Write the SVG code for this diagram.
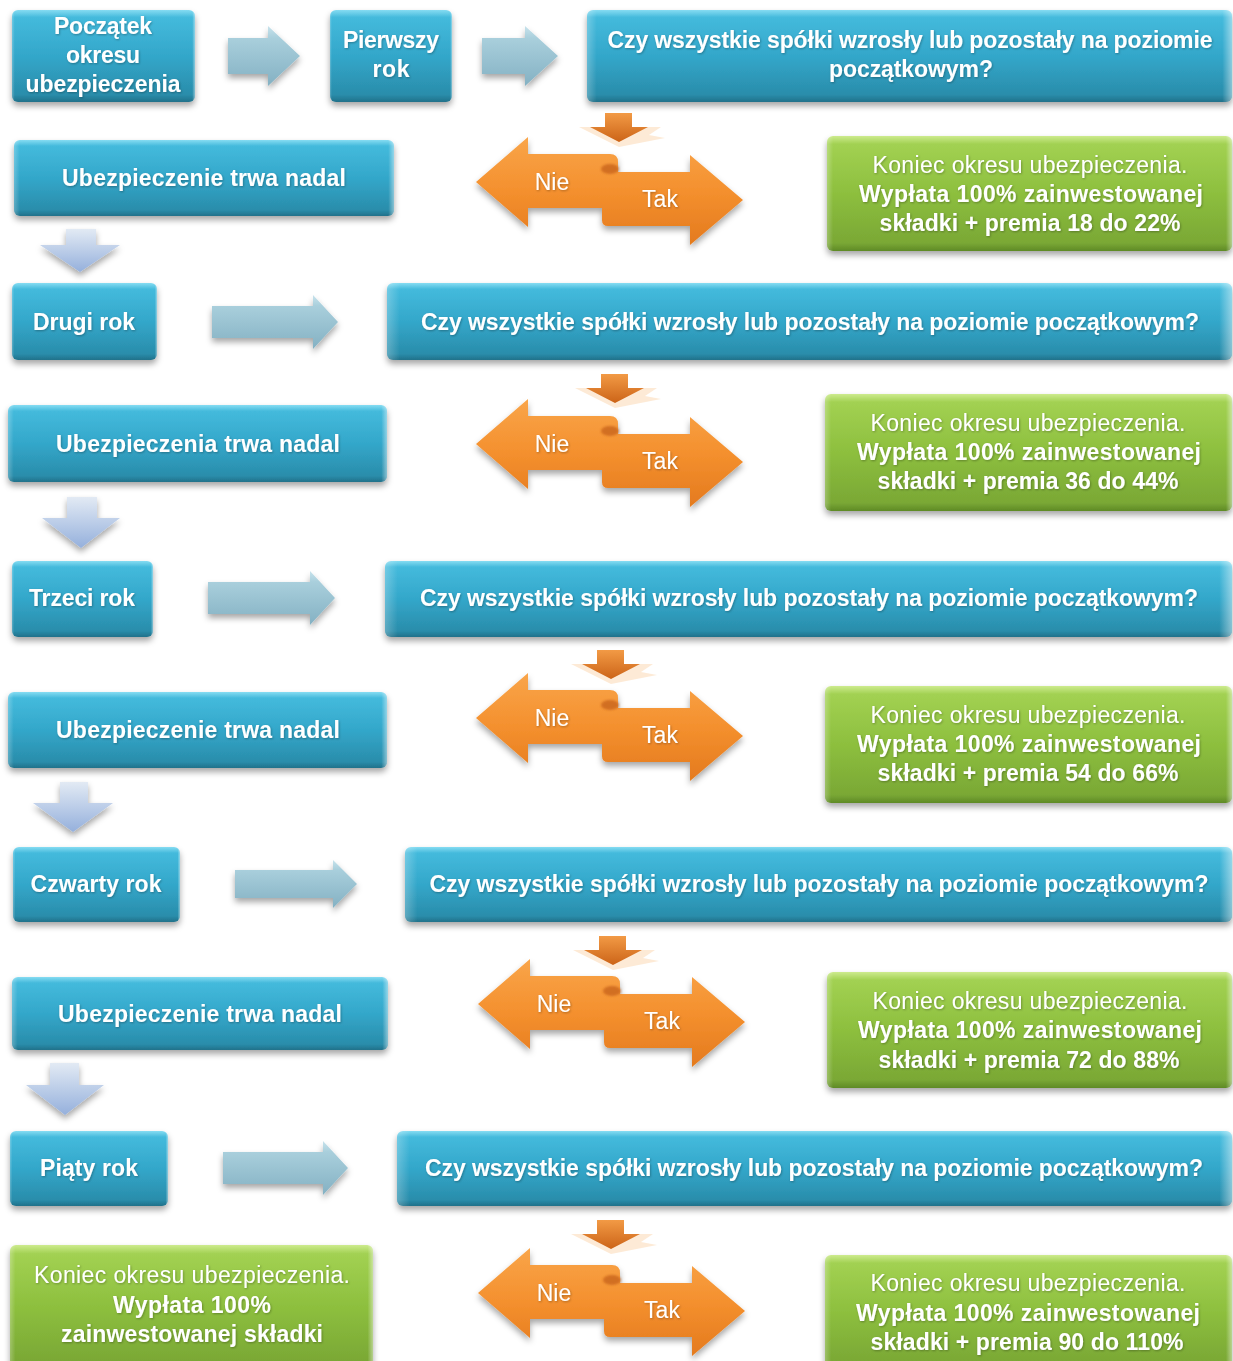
<svg xmlns="http://www.w3.org/2000/svg" xmlns:xlink="http://www.w3.org/1999/xlink" width="1233" height="1361" viewBox="0 0 1233 1361">
<defs>
<linearGradient id="gBlue" x1="0" y1="0" x2="0" y2="1">
<stop offset="0" stop-color="#86DCF2"/><stop offset="0.08" stop-color="#44BADC"/><stop offset="0.5" stop-color="#33A7CA"/><stop offset="0.92" stop-color="#2A8DAB"/><stop offset="1" stop-color="#21718A"/>
</linearGradient>
<linearGradient id="gGreen" x1="0" y1="0" x2="0" y2="1">
<stop offset="0" stop-color="#CDEB8E"/><stop offset="0.07" stop-color="#A2D152"/><stop offset="0.5" stop-color="#8DBF3E"/><stop offset="0.93" stop-color="#7AA835"/><stop offset="1" stop-color="#5F8A26"/>
</linearGradient>
<linearGradient id="gSide" x1="0" y1="0" x2="1" y2="0">
<stop offset="0" stop-color="#fff" stop-opacity="0.25"/><stop offset="0.015" stop-color="#fff" stop-opacity="0"/><stop offset="0.985" stop-color="#fff" stop-opacity="0"/><stop offset="1" stop-color="#fff" stop-opacity="0.45"/>
</linearGradient>
<linearGradient id="gArrow" x1="0" y1="0" x2="0" y2="1">
<stop offset="0" stop-color="#C8E3EC"/><stop offset="0.2" stop-color="#A9CFDC"/><stop offset="1" stop-color="#84B1C3"/>
</linearGradient>
<linearGradient id="gDown" x1="0" y1="0" x2="0" y2="1">
<stop offset="0" stop-color="#E2EAF4"/><stop offset="1" stop-color="#95B0DC"/>
</linearGradient>
<linearGradient id="gOrange" x1="0" y1="0" x2="0" y2="1">
<stop offset="0" stop-color="#F9A54A"/><stop offset="0.5" stop-color="#F4902E"/><stop offset="1" stop-color="#E47A1E"/>
</linearGradient>
<linearGradient id="gOrangeS" x1="0" y1="0" x2="0" y2="1">
<stop offset="0" stop-color="#F29A45"/><stop offset="1" stop-color="#CC6418"/>
</linearGradient>
<filter id="sh" x="-10%" y="-20%" width="120%" height="150%">
<feDropShadow dx="0" dy="4" stdDeviation="3" flood-color="#000" flood-opacity="0.35"/>
</filter>
<filter id="ts" x="-5%" y="-20%" width="110%" height="150%">
<feDropShadow dx="0.8" dy="1" stdDeviation="0.8" flood-color="#000" flood-opacity="0.3"/>
</filter>
<filter id="soft" x="-30%" y="-50%" width="160%" height="200%">
<feGaussianBlur stdDeviation="1.2"/>
</filter>
<path id="dbl" d="M0,0 L52,-45 L52,-28 L134,-28 Q142,-28 142,-20 L142,-10 L214,-10 L214,-27 L267,18 L214,63 L214,44 L132,44 Q126,44 126,38 L126,26 L52,26 L52,45 Z"/>
<ellipse id="curl" cx="134" cy="-13" rx="9" ry="5"/>
<path id="sdown" d="M-14,-29 L13,-29 L13,-15 L29,-15 L0,0 L-29,-15 L-14,-15 Z"/>
<path id="sglow" d="M-40,-15 L42,-15 L30,-7 L46,-4 L0,5 Z"/>
</defs>
<style>
.blue{fill:url(#gBlue);filter:url(#sh)}
.green{fill:url(#gGreen);filter:url(#sh)}
.side{fill:url(#gSide)}
.arr{fill:url(#gArrow);filter:url(#sh)}
.down{fill:url(#gDown);filter:url(#sh)}
.or{fill:url(#gOrange);filter:url(#sh)}
.curl{fill:#C9651B;opacity:0.8;filter:url(#soft)}
.sor{fill:url(#gOrangeS)}
.glow{fill:#FBD8B4;opacity:0.55}
.t{font-family:"Liberation Sans",Arial,sans-serif;fill:#fff;text-anchor:middle;filter:url(#ts)}
.b{font-weight:bold;font-size:23px}
.r{font-size:23px}
</style>

<g id="connectors">
<path class="arr" d="M228,38 L268,38 L268,26 L300,56 L268,86 L268,74 L228,74 Z"/>
<path class="arr" d="M482,38 L525,38 L525,26 L558,56 L525,86 L525,74 L482,74 Z"/>
<path class="arr" d="M212,306 L313,306 L313,295 L338,322 L313,349 L313,338 L212,338 Z"/>
<path class="arr" d="M208,582 L310,582 L310,571 L335,598 L310,625 L310,614 L208,614 Z"/>
<path class="arr" d="M235,870 L333,870 L333,860 L357,884 L333,908 L333,898 L235,898 Z"/>
<path class="arr" d="M223,1152 L323,1152 L323,1141 L348,1168 L323,1195 L323,1184 L223,1184 Z"/>
<path class="down" d="M66,229 L96,229 L96,245 L120,245 L80,272 L40,245 L66,245 Z"/>
<path class="down" d="M67,497 L97,497 L97,518 L120,518 L81,548 L42,518 L67,518 Z"/>
<path class="down" d="M60,782 L88,782 L88,803 L113,803 L73,832 L33,803 L60,803 Z"/>
<path class="down" d="M50,1063 L79,1063 L79,1085 L104,1085 L65,1115 L26,1085 L50,1085 Z"/>
<g transform="translate(619,142)"><use href="#sglow" class="glow"/><use href="#sdown" class="sor"/></g>
<g transform="translate(615,403)"><use href="#sglow" class="glow"/><use href="#sdown" class="sor"/></g>
<g transform="translate(611,679)"><use href="#sglow" class="glow"/><use href="#sdown" class="sor"/></g>
<g transform="translate(613,965)"><use href="#sglow" class="glow"/><use href="#sdown" class="sor"/></g>
<g transform="translate(611,1249)"><use href="#sglow" class="glow"/><use href="#sdown" class="sor"/></g>
</g>

<g id="start">
<rect class="blue" x="12" y="10" width="183" height="92" rx="6"/><rect class="side" x="12" y="10" width="183" height="92" rx="6"/>
<text class="t b" x="103" y="34" textLength="98">Początek</text>
<text class="t b" x="103" y="63" textLength="74">okresu</text>
<text class="t b" x="103" y="92" textLength="155">ubezpieczenia</text>
</g>
<g id="year1">
<rect class="blue" x="330" y="10" width="122" height="92" rx="6"/><rect class="side" x="330" y="10" width="122" height="92" rx="6"/>
<text class="t b" x="391" y="48" textLength="96">Pierwszy</text>
<text class="t b" x="391" y="77" textLength="37">rok</text>
</g>
<g id="q1">
<rect class="blue" x="587" y="10" width="645" height="92" rx="6"/><rect class="side" x="587" y="10" width="645" height="92" rx="6"/>
<text class="t b" x="910" y="48" textLength="605">Czy wszystkie spółki wzrosły lub pozostały na poziomie</text>
<text class="t b" x="911" y="77" textLength="164">początkowym?</text>
</g>
<g id="choice1">
<use href="#dbl" class="or" transform="translate(476,182)"/><use href="#curl" class="curl" transform="translate(476,182)"/>
<text class="t r" x="552" y="190">Nie</text><text class="t r" x="660" y="207">Tak</text>
</g>
<g id="cont1">
<rect class="blue" x="14" y="140" width="380" height="76" rx="6"/><rect class="side" x="14" y="140" width="380" height="76" rx="6"/>
<text class="t b" x="204" y="186" textLength="284">Ubezpieczenie trwa nadal</text>
</g>
<g id="end1">
<rect class="green" x="827" y="136" width="405" height="115" rx="6"/><rect class="side" x="827" y="136" width="405" height="115" rx="6"/>
<text class="t r" x="1030" y="173" textLength="315">Koniec okresu ubezpieczenia.</text>
<text class="t b" x="1031" y="202" textLength="344">Wypłata 100% zainwestowanej</text>
<text class="t b" x="1030" y="231" textLength="301">składki + premia 18 do 22%</text>
</g>

<g id="year2">
<rect class="blue" x="12" y="283" width="145" height="77" rx="6"/><rect class="side" x="12" y="283" width="145" height="77" rx="6"/>
<text class="t b" x="84" y="330" textLength="102">Drugi rok</text>
</g>
<g id="q2">
<rect class="blue" x="387" y="283" width="845" height="77" rx="6"/><rect class="side" x="387" y="283" width="845" height="77" rx="6"/>
<text class="t b" x="810" y="330" textLength="778">Czy wszystkie spółki wzrosły lub pozostały na poziomie początkowym?</text>
</g>
<g id="choice2">
<use href="#dbl" class="or" transform="translate(476,444)"/><use href="#curl" class="curl" transform="translate(476,444)"/>
<text class="t r" x="552" y="452">Nie</text><text class="t r" x="660" y="469">Tak</text>
</g>
<g id="cont2">
<rect class="blue" x="8" y="405" width="379" height="77" rx="6"/><rect class="side" x="8" y="405" width="379" height="77" rx="6"/>
<text class="t b" x="198" y="452" textLength="284">Ubezpieczenia trwa nadal</text>
</g>
<g id="end2">
<rect class="green" x="825" y="394" width="407" height="117" rx="6"/><rect class="side" x="825" y="394" width="407" height="117" rx="6"/>
<text class="t r" x="1028" y="431" textLength="315">Koniec okresu ubezpieczenia.</text>
<text class="t b" x="1029" y="460" textLength="344">Wypłata 100% zainwestowanej</text>
<text class="t b" x="1028" y="489" textLength="301">składki + premia 36 do 44%</text>
</g>

<g id="year3">
<rect class="blue" x="12" y="561" width="141" height="76" rx="6"/><rect class="side" x="12" y="561" width="141" height="76" rx="6"/>
<text class="t b" x="82" y="606" textLength="106">Trzeci rok</text>
</g>
<g id="q3">
<rect class="blue" x="385" y="561" width="847" height="76" rx="6"/><rect class="side" x="385" y="561" width="847" height="76" rx="6"/>
<text class="t b" x="809" y="606" textLength="778">Czy wszystkie spółki wzrosły lub pozostały na poziomie początkowym?</text>
</g>
<g id="choice3">
<use href="#dbl" class="or" transform="translate(476,718)"/><use href="#curl" class="curl" transform="translate(476,718)"/>
<text class="t r" x="552" y="726">Nie</text><text class="t r" x="660" y="743">Tak</text>
</g>
<g id="cont3">
<rect class="blue" x="8" y="692" width="379" height="76" rx="6"/><rect class="side" x="8" y="692" width="379" height="76" rx="6"/>
<text class="t b" x="198" y="738" textLength="284">Ubezpieczenie trwa nadal</text>
</g>
<g id="end3">
<rect class="green" x="825" y="686" width="407" height="117" rx="6"/><rect class="side" x="825" y="686" width="407" height="117" rx="6"/>
<text class="t r" x="1028" y="723" textLength="315">Koniec okresu ubezpieczenia.</text>
<text class="t b" x="1029" y="752" textLength="344">Wypłata 100% zainwestowanej</text>
<text class="t b" x="1028" y="781" textLength="301">składki + premia 54 do 66%</text>
</g>

<g id="year4">
<rect class="blue" x="13" y="847" width="167" height="75" rx="6"/><rect class="side" x="13" y="847" width="167" height="75" rx="6"/>
<text class="t b" x="96" y="892" textLength="131">Czwarty rok</text>
</g>
<g id="q4">
<rect class="blue" x="405" y="847" width="827" height="75" rx="6"/><rect class="side" x="405" y="847" width="827" height="75" rx="6"/>
<text class="t b" x="819" y="892" textLength="779">Czy wszystkie spółki wzrosły lub pozostały na poziomie początkowym?</text>
</g>
<g id="choice4">
<use href="#dbl" class="or" transform="translate(478,1004)"/><use href="#curl" class="curl" transform="translate(478,1004)"/>
<text class="t r" x="554" y="1012">Nie</text><text class="t r" x="662" y="1029">Tak</text>
</g>
<g id="cont4">
<rect class="blue" x="12" y="977" width="376" height="73" rx="6"/><rect class="side" x="12" y="977" width="376" height="73" rx="6"/>
<text class="t b" x="200" y="1022" textLength="284">Ubezpieczenie trwa nadal</text>
</g>
<g id="end4">
<rect class="green" x="827" y="972" width="405" height="116" rx="6"/><rect class="side" x="827" y="972" width="405" height="116" rx="6"/>
<text class="t r" x="1030" y="1009" textLength="315">Koniec okresu ubezpieczenia.</text>
<text class="t b" x="1030" y="1038" textLength="344">Wypłata 100% zainwestowanej</text>
<text class="t b" x="1029" y="1068" textLength="301">składki + premia 72 do 88%</text>
</g>

<g id="year5">
<rect class="blue" x="10" y="1131" width="158" height="75" rx="6"/><rect class="side" x="10" y="1131" width="158" height="75" rx="6"/>
<text class="t b" x="89" y="1176" textLength="98">Piąty rok</text>
</g>
<g id="q5">
<rect class="blue" x="397" y="1131" width="835" height="75" rx="6"/><rect class="side" x="397" y="1131" width="835" height="75" rx="6"/>
<text class="t b" x="814" y="1176" textLength="778">Czy wszystkie spółki wzrosły lub pozostały na poziomie początkowym?</text>
</g>
<g id="choice5">
<use href="#dbl" class="or" transform="translate(478,1293)"/><use href="#curl" class="curl" transform="translate(478,1293)"/>
<text class="t r" x="554" y="1301">Nie</text><text class="t r" x="662" y="1318">Tak</text>
</g>
<g id="end0">
<rect class="green" x="10" y="1245" width="363" height="125" rx="6"/><rect class="side" x="10" y="1245" width="363" height="125" rx="6"/>
<text class="t r" x="192" y="1283" textLength="316">Koniec okresu ubezpieczenia.</text>
<text class="t b" x="192" y="1313" textLength="158">Wypłata 100%</text>
<text class="t b" x="192" y="1342" textLength="262">zainwestowanej składki</text>
</g>
<g id="end5">
<rect class="green" x="825" y="1255" width="407" height="115" rx="6"/><rect class="side" x="825" y="1255" width="407" height="115" rx="6"/>
<text class="t r" x="1028" y="1291" textLength="315">Koniec okresu ubezpieczenia.</text>
<text class="t b" x="1028" y="1321" textLength="344">Wypłata 100% zainwestowanej</text>
<text class="t b" x="1027" y="1350" textLength="313">składki + premia 90 do 110%</text>
</g>
</svg>
